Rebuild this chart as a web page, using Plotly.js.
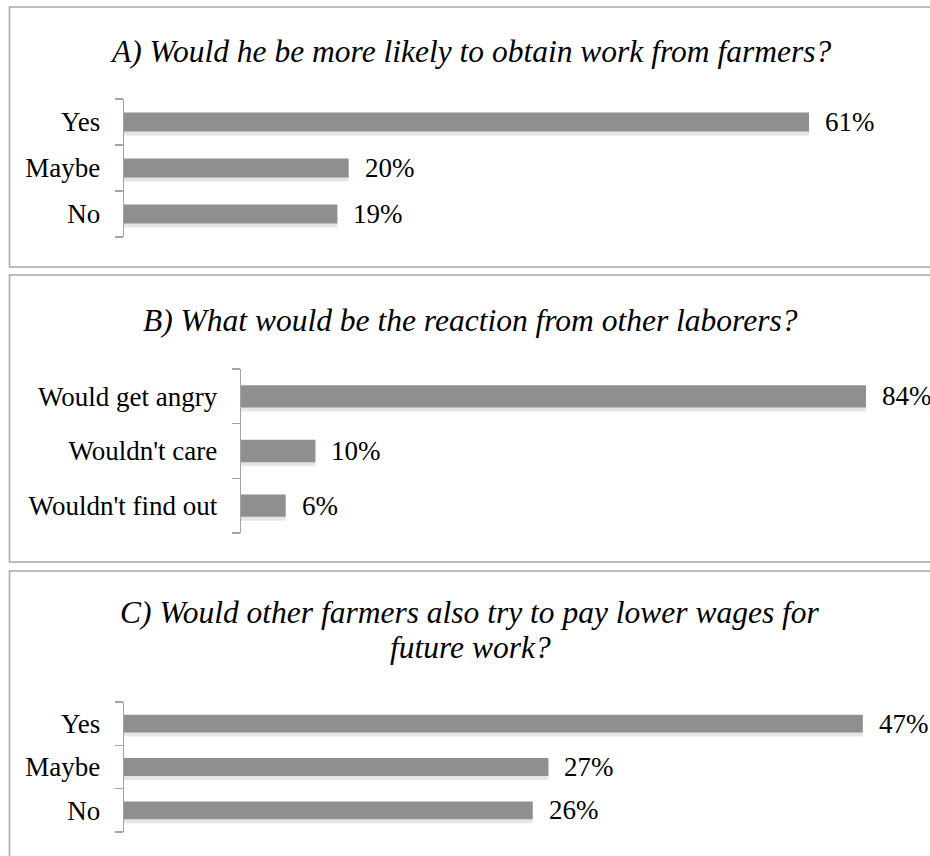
<!DOCTYPE html>
<html><head><meta charset="utf-8">
<script src="https://cdn.plot.ly/plotly-3.0.1.min.js"></script>
<style>html,body{margin:0;padding:0;background:#fff}#chart{width:930px;height:856px}</style>
</head><body><div id="chart"></div>
<script>
// ---- data ----
const titleA = ["A) Would he be more likely to obtain work from farmers?"];
const catsA = ["Yes", "Maybe", "No"];
const valsA = [61, 20, 19];

const titleB = ["B) What would be the reaction from other laborers?"];
const catsB = ["Would get angry", "Wouldn't care", "Wouldn't find out"];
const valsB = [84, 10, 6];

const titleC = ["C) Would other farmers also try to pay lower wages for", "future work?"];
const catsC = ["Yes", "Maybe", "No"];
const valsC = [47, 27, 26];

// ---- layout geometry (pixels) ----
const W = 930, H = 856;
const px = x => x / W;
const py = y => 1 - y / H;
const FONT = "Liberation Serif";
const LABEL_SIZE = 27;
const TITLE_SIZE = 31.5;
const BAR = "#8f8f8f";
const AXC = "#a3a3a3";

const panels = [
  {cats: catsA, vals: valsA, title: titleA, axisX: 124, top: 99, bot: 237, ppu: 11.23, box: [7, 267], titleY: [52], width: 0.41},
  {cats: catsB, vals: valsB, title: titleB, axisX: 241, top: 369, bot: 533, ppu: 7.44, box: [275, 562], titleY: [320], width: 0.41},
  {cats: catsC, vals: valsC, title: titleC, axisX: 124, top: 702, bot: 832, ppu: 15.72, box: [571, 900], titleY: [612, 647], width: 0.41}
];

const data = [];
const layout = {
  width: W, height: H,
  margin: {l: 0, r: 0, t: 0, b: 0, pad: 0},
  paper_bgcolor: "#fff", plot_bgcolor: "rgba(0,0,0,0)",
  showlegend: false, barmode: "overlay",
  font: {family: FONT, size: LABEL_SIZE, color: "#000"},
  annotations: [], shapes: [], hovermode: false
};

panels.forEach((p, i) => {
  const n = i === 0 ? "" : String(i + 1);
  const xa = "x" + n, ya = "y" + n;
  const idx = p.cats.map((c, k) => k);
  const bounds = p.cats.map((c, k) => k - 0.5).concat([p.cats.length - 0.5]);
  const bandPx = (p.bot - p.top) / p.cats.length;
  const shadowOff = 4 / bandPx;
  data.push({
    type: "bar", orientation: "h", x: p.vals, y: idx, xaxis: xa, yaxis: ya,
    width: p.width, offset: -p.width / 2 + shadowOff,
    marker: {color: "rgba(0,0,0,0.10)"}, hoverinfo: "skip"
  });
  data.push({
    type: "bar", orientation: "h", x: p.vals, y: idx, xaxis: xa, yaxis: ya,
    width: p.width, marker: {color: BAR}, hoverinfo: "skip"
  });
  layout["xaxis" + n] = {
    domain: [px(p.axisX), 1], range: [0, (W - p.axisX) / p.ppu],
    visible: false, fixedrange: true, anchor: ya
  };
  layout["yaxis" + n] = {
    domain: [py(p.bot), py(p.top)], anchor: xa,
    type: "linear", range: [p.cats.length - 0.5, -0.5],
    tickmode: "array", tickvals: idx, ticktext: p.cats, ticks: "",
    minor: {tickmode: "array", tickvals: bounds, ticks: "outside", ticklen: 8, tickwidth: 1.3, tickcolor: AXC, showgrid: false},
    showline: true, linecolor: AXC, linewidth: 1.3,
    showgrid: false, zeroline: false, fixedrange: true,
    ticklabelstandoff: 17,
    tickfont: {family: FONT, size: LABEL_SIZE, color: "#000"}
  };
  p.vals.forEach((v, k) => {
    layout.annotations.push({
      x: v, y: idx[k], xref: xa, yref: ya, xanchor: "left", yanchor: "middle",
      xshift: 14, text: v + "%", showarrow: false,
      font: {family: FONT, size: LABEL_SIZE, color: "#000"}
    });
  });
  p.title.forEach((line, j) => {
    layout.annotations.push({
      x: px(470), y: py(p.titleY[j]), xref: "paper", yref: "paper",
      xanchor: "center", yanchor: "middle", text: "<i>" + line + "</i>",
      showarrow: false, font: {family: FONT, size: TITLE_SIZE, color: "#000"}
    });
  });
  layout.shapes.push({
    type: "rect", xref: "paper", yref: "paper",
    x0: px(9.5), x1: 1.02, y0: py(p.box[1]), y1: py(p.box[0]),
    line: {color: "#a6a6a6", width: 1.5}, fillcolor: "rgba(0,0,0,0)"
  });
});

Plotly.newPlot("chart", data, layout, {staticPlot: true, displayModeBar: false});
</script>
</body></html>
